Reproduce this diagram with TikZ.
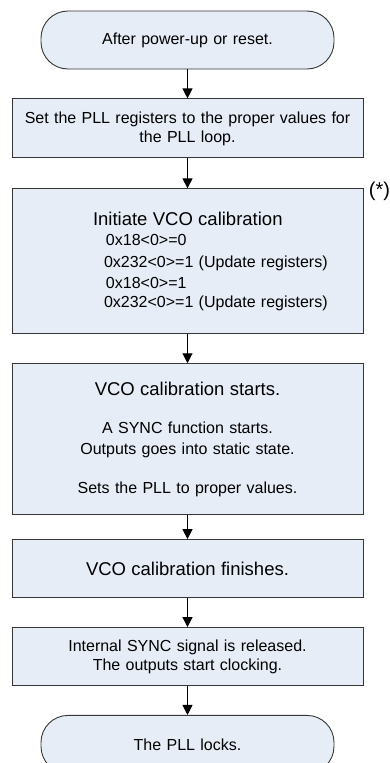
\documentclass[tikz,border=0pt]{standalone}
\usepackage{fontspec}
\setmainfont{Liberation Sans}
\usetikzlibrary{arrows.meta,positioning}
\definecolor{boxfill}{RGB}{231,237,247}
\definecolor{boxline}{RGB}{55,55,55}
\tikzset{
  >={Triangle[width=10pt,length=10pt]},
  block/.style={draw=boxline,fill=boxfill,line width=0.9pt,align=center,
    minimum width=351pt,text width=331pt,inner sep=10pt,
    font=\fontsize{16}{19}\selectfont},
  term/.style={block,rounded corners=27pt,minimum width=293pt,text width=273pt,
    minimum height=58pt},
  arrow/.style={->,line width=1.1pt},
}
\newcommand{\headtxt}{\fontsize{18.5}{22}\selectfont}
\newcommand{\regtxt}{\fontsize{16}{21.5}\selectfont}
\newcommand{\bodytxt}{\fontsize{16}{21}\selectfont}

\begin{document}
\begin{tikzpicture}
  \useasboundingbox (0,0) rectangle (390pt,-763pt);
  \node[term] (start) at (187.5pt,-40pt) {After power-up or reset.};
  \node[block,minimum height=59pt,below=29pt of start] (setpll)
    {Set the PLL registers to the proper values for\\the PLL loop.};
  \node[block,minimum height=145pt,below=30pt of setpll,align=left] (initvco)
    {\hspace*{71pt}{\headtxt Initiate VCO calibration}\\[-1pt]
     \regtxt\hspace*{84pt}0x18<0>=0\\
     \regtxt\hspace*{82pt}0x232<0>=1 (Update registers)\\
     \regtxt\hspace*{84pt}0x18<0>=1\\
     \regtxt\hspace*{82pt}0x232<0>=1 (Update registers)};
  \node[font=\fontsize{20}{22}\selectfont,inner sep=0pt] (note)
    at ([xshift=16pt,yshift=-3pt]initvco.north east) {(*)};
  \node[block,minimum height=151pt,below=29pt of initvco] (calstart)
    {{\headtxt VCO calibration starts.}\\[17pt]
     \bodytxt A SYNC function starts.\\
     \bodytxt Outputs goes into static state.\\[20pt]
     \bodytxt Sets the PLL to proper values.};
  \node[block,minimum height=58pt,below=24pt of calstart] (calend)
    {\headtxt VCO calibration finishes.};
  \node[block,minimum height=58pt,below=29pt of calend] (release)
    {Internal SYNC signal is released.\\The outputs start clocking.};
  \node[term,below=29pt of release] (locked) {The PLL locks.};
  \draw[arrow] (start) -- (setpll);
  \draw[arrow] (setpll) -- (initvco);
  \draw[arrow] (initvco) -- (calstart);
  \draw[arrow] (calstart) -- (calend);
  \draw[arrow] (calend) -- (release);
  \draw[arrow] (release) -- (locked);
\end{tikzpicture}
\end{document}
